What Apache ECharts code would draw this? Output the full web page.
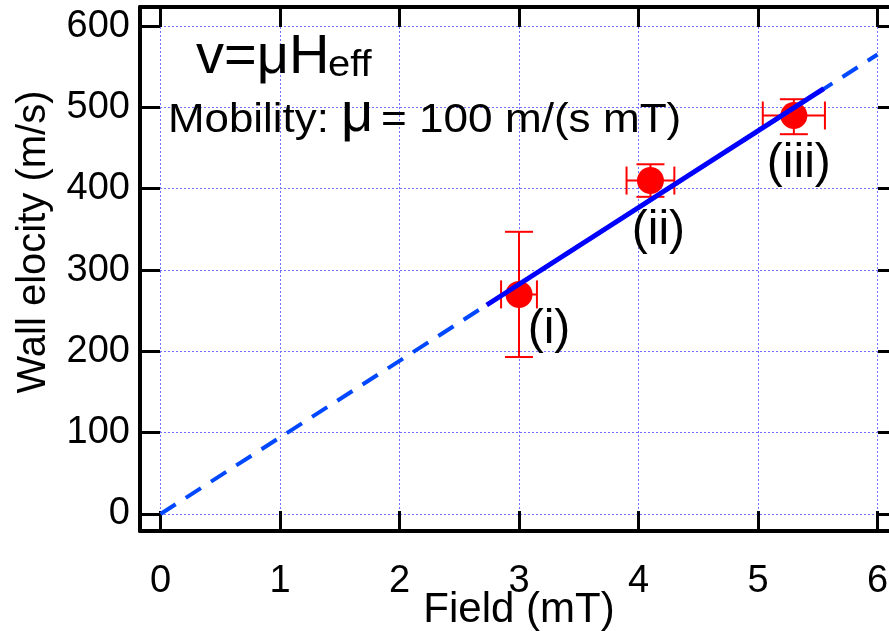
<!DOCTYPE html>
<html><head><meta charset="utf-8">
<script src="https://cdn.jsdelivr.net/npm/echarts@6/dist/echarts.min.js"></script>
<style>html,body{margin:0;padding:0;background:#fff}#c{width:889px;height:631px}</style>
</head><body><div id="c"></div>
<script>
// ---- data ----
const xTickValues = [0, 1, 2, 3, 4, 5, 6];
const yTickValues = [0, 100, 200, 300, 400, 500, 600];
const pointLabels = ['(i)', '(ii)', '(iii)'];
const fieldValues = [3.0, 4.1, 5.3];
const velocityValues = [270, 410, 490];
const fieldErr = [0.15, 0.2, 0.26];
const velocityErrUp = [77, 20, 20];
const velocityErrDown = [77, 20, 23];
const fitDashedX = [0, 6];
const fitDashedY = [0, 565];
const fitSolidX = [2.73, 5.55];
const fitSolidY = [257, 523];

const FONT = '"Liberation Sans", Arial, Helvetica, sans-serif';
const chart = echarts.init(document.getElementById('c'), null, {renderer: 'canvas'});

const labelOffsets = [[30, 35], [8, 50], [5, 48]];

const errData = fieldValues.map((x, i) => [x, velocityValues[i], fieldErr[i], velocityErrUp[i], velocityErrDown[i]]);
const pointData = fieldValues.map((x, i) => ({
  value: [x, velocityValues[i]],
  label: {show: true, formatter: pointLabels[i], position: 'inside', offset: labelOffsets[i],
          fontSize: 48, fontFamily: FONT, color: '#000'}
}));

function renderErr(params, api) {
  const x = api.value(0), y = api.value(1), ex = api.value(2), eu = api.value(3), ed = api.value(4);
  const c = api.coord([x, y]);
  const top = api.coord([x, y + eu]), bot = api.coord([x, y - ed]);
  const lft = api.coord([x - ex, y]), rgt = api.coord([x + ex, y]);
  const cap = 14;
  const st = {stroke: '#ff0000', lineWidth: 2};
  const L = (x1, y1, x2, y2) => ({type: 'line', shape: {x1, y1, x2, y2}, style: st});
  return {type: 'group', children: [
    L(c[0], top[1], c[0], bot[1]),
    L(c[0] - cap, top[1], c[0] + cap, top[1]),
    L(c[0] - cap, bot[1], c[0] + cap, bot[1]),
    L(lft[0], c[1], rgt[0], c[1]),
    L(lft[0], c[1] - cap, lft[0], c[1] + cap),
    L(rgt[0], c[1] - cap, rgt[0], c[1] + cap)
  ]};
}

const xMin = -0.1715, xMax = 6.1715, yMin = -20.9, yMax = 623.4;
const gridLine = {show: true, lineStyle: {color: '#7070ff', width: 1, type: [2, 2]}};
const frameLine = {show: true, onZero: false, lineStyle: {color: '#000', width: 4}};
const tickStyle = (vals) => ({show: true, inside: true, length: 20, customValues: vals, lineStyle: {color: '#000', width: 3}});

const option = {
  animation: false,
  backgroundColor: '#fff',
  grid: {left: 140, right: -9, top: 7, bottom: 100, containLabel: false, outerBoundsMode: 'none'},
  xAxis: [
    {type: 'value', min: xMin, max: xMax, position: 'bottom',
     axisLine: frameLine, axisTick: tickStyle(xTickValues),
     axisLabel: {show: true, customValues: xTickValues, margin: 32, fontSize: 38, fontFamily: FONT, color: '#000'},
     splitLine: gridLine,
     name: 'Field (mT)', nameLocation: 'middle', nameGap: 58, nameMoveOverlap: false,
     nameTextStyle: {fontSize: 42, fontFamily: FONT, color: '#000'}},
    {type: 'value', min: xMin, max: xMax, position: 'top',
     axisLine: frameLine, axisTick: tickStyle(xTickValues),
     axisLabel: {show: false}, splitLine: {show: false}}
  ],
  yAxis: [
    {type: 'value', min: yMin, max: yMax, position: 'left',
     axisLine: frameLine, axisTick: tickStyle(yTickValues),
     axisLabel: {show: true, customValues: yTickValues, margin: 10, fontSize: 38, fontFamily: FONT, color: '#000'},
     splitLine: gridLine,
     name: 'Wall elocity (m/s)', nameLocation: 'middle', nameGap: 86, nameMoveOverlap: false,
     nameTextStyle: {fontSize: 40, fontFamily: FONT, color: '#000', padding: [0, 0, 0, 54]}},
    {type: 'value', min: yMin, max: yMax, position: 'right',
     axisLine: frameLine, axisTick: tickStyle(yTickValues),
     axisLabel: {show: false}, splitLine: {show: false}}
  ],
  series: [
    {type: 'custom', name: 'error', renderItem: renderErr, data: errData, z: 2, clip: false,
     encode: {x: 0, y: 1}},
    {type: 'scatter', name: 'points', data: pointData, symbol: 'circle', symbolSize: 27,
     itemStyle: {color: '#ff0000', opacity: 1}, z: 3},
    {type: 'line', name: 'fit dashed', data: fitDashedX.map((x, i) => [x, fitDashedY[i]]),
     showSymbol: false, symbol: 'none', z: 4,
     lineStyle: {color: '#0048ff', width: 4, type: [18, 12]}},
    {type: 'line', name: 'fit solid', data: fitSolidX.map((x, i) => [x, fitSolidY[i]]),
     showSymbol: false, symbol: 'none', z: 5,
     lineStyle: {color: '#0000ff', width: 5}}
  ],
  graphic: [
    {type: 'text', x: 196, y: 57.6, z: 10, style: {text: 'v=μH', font: '56px ' + FONT, fill: '#000', verticalAlign: 'middle'}},
    {type: 'text', x: 328, y: 65.5, z: 10, scaleX: 1.08, style: {text: 'eff', font: '37px ' + FONT, fill: '#000', verticalAlign: 'middle'}},
    {type: 'text', x: 168, y: 121, z: 10, scaleX: 1.07, style: {text: 'Mobility:', font: '41px ' + FONT, fill: '#000', verticalAlign: 'middle'}},
    {type: 'text', x: 341, y: 115.6, z: 10, style: {text: 'μ', font: '56px ' + FONT, fill: '#000', verticalAlign: 'middle'}},
    {type: 'text', x: 381, y: 121, z: 10, scaleX: 1.076, style: {text: '= 100 m/(s mT)', font: '41px ' + FONT, fill: '#000', verticalAlign: 'middle'}}
  ]
};
chart.setOption(option);
</script>
</body></html>
